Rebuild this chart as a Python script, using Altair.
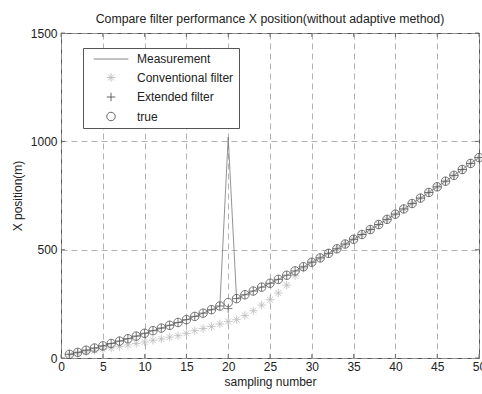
import altair as alt
import pandas as pd

samples = list(range(1, 51))

true_x = [17, 26, 36, 46, 56, 67, 78, 89, 101, 114,
          126, 138, 151, 164, 177, 192, 207, 223, 240, 256,
          274, 292, 309, 327, 345, 363, 382, 402, 421, 442,
          462, 483, 504, 526, 548, 570, 593, 616, 640, 664,
          688, 713, 738, 764, 790, 816, 843, 870, 898, 925]

measurement = [17, 26, 36, 46, 56, 67, 78, 89, 101, 114,
               126, 138, 151, 164, 177, 192, 207, 223, 240, 1020,
               274, 292, 309, 327, 345, 363, 382, 402, 421, 442,
               462, 483, 504, 526, 548, 570, 593, 616, 640, 664,
               688, 713, 738, 764, 790, 816, 843, 870, 898, 925]

conventional = [15, 22, 28, 34, 40, 46, 53, 60, 67, 74,
                82, 88, 96, 103, 114, 126, 136, 145, 157, 168,
                177, 196, 218, 244, 269, 300, 336, 380, 415, 442,
                462, 483, 504, 526, 548, 570, 593, 616, 640, 664,
                688, 713, 738, 764, 790, 816, 843, 870, 898, 925]

extended = [17, 26, 36, 46, 56, 67, 78, 89, 101, 114,
            126, 138, 151, 164, 177, 192, 207, 223, 240, 228,
            274, 292, 309, 327, 345, 363, 382, 402, 421, 442,
            462, 483, 504, 526, 548, 570, 593, 616, 640, 664,
            688, 713, 738, 764, 790, 816, 843, 870, 898, 925]

series_names = ["Measurement", "Conventional filter", "Extended filter", "true"]
x_ticks = [0, 5, 10, 15, 20, 25, 30, 35, 40, 45, 50]
y_ticks = [0, 500, 1000, 1500]

FONT = "Liberation Sans"
W, H = 418, 325

line_df = pd.DataFrame({"n": samples, "x": measurement, "series": "Measurement"})
pts_df = pd.concat([
    pd.DataFrame({"n": samples, "x": conventional, "series": "Conventional filter"}),
    pd.DataFrame({"n": samples, "x": extended, "series": "Extended filter"}),
    pd.DataFrame({"n": samples, "x": true_x, "series": "true"}),
])
xt_df = pd.DataFrame({"t": x_ticks})
yt_df = pd.DataFrame({"t": y_ticks})

x_scale = alt.Scale(domain=[0, 50], nice=False, zero=False)
y_scale = alt.Scale(domain=[0, 1500], nice=False)

x_axis = alt.Axis(values=x_ticks, grid=True, gridDash=[6, 4], gridColor="#a0a0a0",
                  gridWidth=0.8, ticks=False, domain=False, labelPadding=3,
                  labelFont=FONT, labelFontSize=12, labelColor="#222",
                  titleFont=FONT, titleFontSize=12, titleFontWeight="normal",
                  titleColor="#222", titlePadding=4, labelFlush=False, format="d")
y_axis = alt.Axis(values=y_ticks, grid=True, gridDash=[6, 4], gridColor="#a0a0a0",
                  gridWidth=0.8, ticks=False, domain=False, labelPadding=4,
                  labelFont=FONT, labelFontSize=12, labelColor="#222",
                  titleFont=FONT, titleFontSize=12, titleFontWeight="normal",
                  titleColor="#222", titlePadding=6, labelFlush=False, format="d")

color_scale = alt.Scale(domain=series_names, range=["#777777", "#bbbbbb", "#555555", "#555555"])
shape_scale = alt.Scale(domain=series_names, range=[
    "M-4.1,0L4.1,0",
    "M-1,0L1,0M0,-1L0,1M-0.7,-0.7L0.7,0.7M-0.7,0.7L0.7,-0.7",
    "M-1,0L1,0M0,-1L0,1",
    "circle",
])

legend = alt.Legend(orient="none", legendX=22, legendY=15, title=None,
                    padding=5, rowPadding=5.5, symbolOffset=17, labelOffset=20,
                    labelFont=FONT, labelFontSize=12, labelColor="#222",
                    symbolSize=72, symbolStrokeWidth=0.9, labelLimit=300,
                    strokeColor="#555555", fillColor="white", cornerRadius=0,
                    symbolFillColor="transparent")

grid_layer = alt.Chart(xt_df).mark_rule(opacity=0).encode(
    x=alt.X("t:Q", scale=x_scale, axis=x_axis, title="sampling number"),
)
grid_layer_y = alt.Chart(yt_df).mark_rule(opacity=0).encode(
    y=alt.Y("t:Q", scale=y_scale, axis=y_axis, title="X position(m)"),
)

tick_color = "#555555"
xb = alt.Chart(xt_df).mark_rule(color=tick_color, strokeWidth=0.8).encode(
    x=alt.X("t:Q", scale=x_scale), y=alt.value(H), y2=alt.value(H - 4))
xtp = alt.Chart(xt_df).mark_rule(color=tick_color, strokeWidth=0.8).encode(
    x=alt.X("t:Q", scale=x_scale), y=alt.value(0), y2=alt.value(4))
yl = alt.Chart(yt_df).mark_rule(color=tick_color, strokeWidth=0.8).encode(
    y=alt.Y("t:Q", scale=y_scale), x=alt.value(0), x2=alt.value(4))
yr = alt.Chart(yt_df).mark_rule(color=tick_color, strokeWidth=0.8).encode(
    y=alt.Y("t:Q", scale=y_scale), x=alt.value(W), x2=alt.value(W - 4))

line = alt.Chart(line_df).mark_line(strokeWidth=0.8).encode(
    x=alt.X("n:Q", scale=x_scale),
    y=alt.Y("x:Q", scale=y_scale),
    color=alt.Color("series:N", scale=color_scale, legend=legend),
)

pts = alt.Chart(pts_df).mark_point(filled=False, size=72, strokeWidth=0.8, opacity=1).encode(
    x=alt.X("n:Q", scale=x_scale),
    y=alt.Y("x:Q", scale=y_scale),
    color=alt.Color("series:N", scale=color_scale, legend=legend),
    shape=alt.Shape("series:N", scale=shape_scale, legend=legend),
    order=alt.Order("series:N"),
)

chart = alt.layer(grid_layer, grid_layer_y, xb, xtp, yl, yr, line, pts).properties(
    width=W, height=H,
    title=alt.TitleParams(text="Compare filter performance X position(without adaptive method)",
                          font=FONT, fontSize=12.3, fontWeight="normal", color="#222",
                          offset=2, anchor="middle"),
    autosize=alt.AutoSizeParams(type="none"),
    padding={"left": 61, "top": 33, "right": 3, "bottom": 36},
).configure_view(stroke="#555555", strokeWidth=1)

chart.save("out.html", embed_options={"renderer": "svg", "actions": False})
